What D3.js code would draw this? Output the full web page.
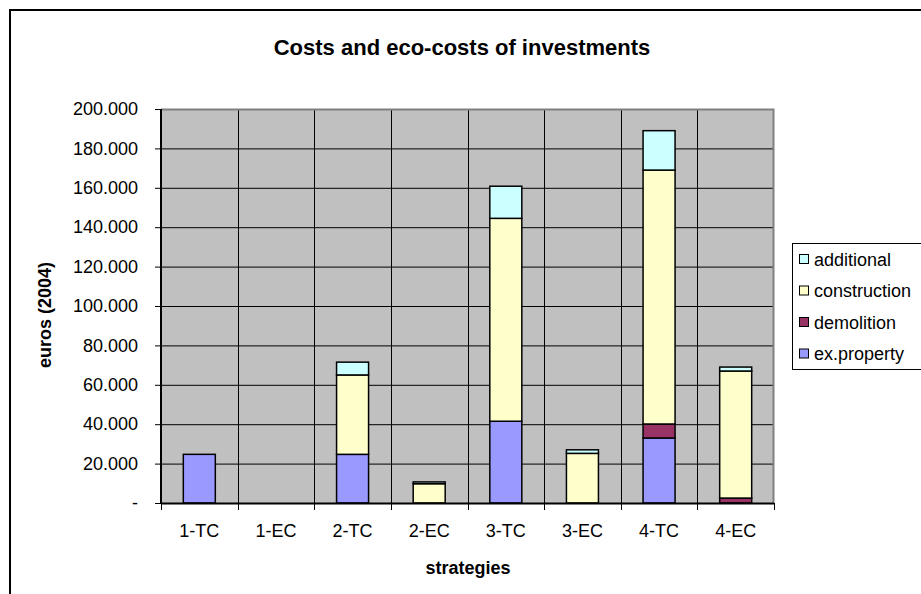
<!DOCTYPE html>
<html><head><meta charset="utf-8">
<script src="https://cdn.jsdelivr.net/npm/d3@7"></script>
<style>body{margin:0;background:#fff}svg{display:block;font-family:Arial,"Liberation Sans",sans-serif}</style>
</head><body>
<svg id="c" width="921" height="594"></svg>
<script>
const categories = ["1-TC","1-EC","2-TC","2-EC","3-TC","3-EC","4-TC","4-EC"];
const exProperty   = [24700, 0, 24700, 0, 41500, 0, 33000, 0];
const demolition   = [0, 0, 0, 0, 0, 0, 7100, 2500];
const construction = [0, 0, 40300, 9800, 103000, 25200, 128900, 64500];
const additional   = [0, 0, 6500, 900, 16300, 1800, 20000, 2000];
const seriesNames  = ["ex.property","demolition","construction","additional"];
const yTicks = [0,20000,40000,60000,80000,100000,120000,140000,160000,180000,200000];
const colors = {"ex.property":"#9999FF","demolition":"#993366","construction":"#FFFFCC","additional":"#CCFFFF"};

const svg = d3.select("#c");
// outer frame
svg.append("rect").attr("x",10).attr("y",10).attr("width",940).attr("height",620)
  .attr("fill","#fff").attr("stroke","#000").attr("stroke-width",2);

const L=161, T=109, R=774, B=503;
const x = d3.scaleBand().domain(categories).range([L,R]).paddingInner(0).paddingOuter(0);
const y = d3.scaleLinear().domain([0,200000]).range([B,T]);

svg.append("rect").attr("x",L).attr("y",T).attr("width",R-L).attr("height",B-T).attr("fill","#C0C0C0");
// grid
svg.append("g").selectAll("line").data(yTicks.slice(1)).join("line")
  .attr("x1",L).attr("x2",R).attr("y1",d=>y(d)+0.5).attr("y2",d=>y(d)+0.5).attr("stroke","#000").attr("stroke-width",1);
svg.append("g").selectAll("line").data(categories.slice(1)).join("line")
  .attr("x1",d=>Math.round(x(d))+0.5).attr("x2",d=>Math.round(x(d))+0.5).attr("y1",T).attr("y2",B).attr("stroke","#000");
// plot border
svg.append("path").attr("d",`M${L},${T+0.5}H${R-0.5}V${B}`).attr("fill","none").attr("stroke","#808080").attr("stroke-width",2);

const rows = categories.map((c,i)=>({cat:c,"ex.property":exProperty[i],"demolition":demolition[i],"construction":construction[i],"additional":additional[i]}));
const stack = d3.stack().keys(seriesNames)(rows);
const bw = 32;
svg.append("g").selectAll("g").data(stack).join("g").attr("fill",d=>colors[d.key])
  .selectAll("rect").data(d=>d.filter(p=>p[1]-p[0]>0)).join("rect")
  .attr("x",d=>x(d.data.cat)+x.bandwidth()/2-bw/2).attr("width",bw)
  .attr("y",d=>y(d[1])).attr("height",d=>y(d[0])-y(d[1]))
  .attr("stroke","#000").attr("stroke-width",1.5);

// axes
const yAxis = d3.axisLeft(y).tickValues(yTicks).tickSize(6).tickFormat(d=>d===0?"-":(d/1000).toFixed(0)+".000");
const gy = svg.append("g").attr("transform",`translate(${L},0)`).call(yAxis);
gy.select(".domain").attr("stroke","#000").attr("stroke-width",2).attr("d",`M0,${T}V${B}`);
gy.selectAll(".tick line").attr("stroke","#000");
gy.selectAll(".tick text").attr("x",-23).attr("font-size",18).attr("fill","#000").attr("font-family","Arial,'Liberation Sans',sans-serif");

const gx = svg.append("g").attr("transform",`translate(0,${B})`);
gx.append("line").attr("x1",L).attr("x2",R).attr("y1",0.5).attr("y2",0.5).attr("stroke","#000").attr("stroke-width",2);
gx.selectAll("line.t").data(categories.concat(["__end"])).join("line").attr("class","t")
  .attr("x1",(d,i)=>Math.round(L+i*x.bandwidth())+0.5).attr("x2",(d,i)=>Math.round(L+i*x.bandwidth())+0.5)
  .attr("y1",0).attr("y2",7).attr("stroke","#000");
gx.selectAll("text").data(categories).join("text")
  .attr("x",d=>x(d)+x.bandwidth()/2).attr("y",34).attr("text-anchor","middle").attr("font-size",18).text(d=>d);

// titles
svg.append("text").attr("x",462).attr("y",55).attr("text-anchor","middle").attr("font-weight","bold").attr("font-size",22).text("Costs and eco-costs of investments");
svg.append("text").attr("x",468).attr("y",574).attr("text-anchor","middle").attr("font-weight","bold").attr("font-size",18).text("strategies");
svg.append("text").attr("transform","translate(51,315) rotate(-90)").attr("text-anchor","middle").attr("font-weight","bold").attr("font-size",18).text("euros (2004)");

// legend
const lg = svg.append("g").attr("transform","translate(792,243)");
lg.append("rect").attr("x",0.5).attr("y",0.5).attr("width",200).attr("height",126).attr("fill","#fff").attr("stroke","#000");
const legendOrder = ["additional","construction","demolition","ex.property"];
const li = lg.selectAll("g").data(legendOrder).join("g").attr("transform",(d,i)=>`translate(0,${16+i*31.5})`);
li.append("rect").attr("x",7.5).attr("y",-4.5).attr("width",9).attr("height",9).attr("fill",d=>colors[d]).attr("stroke","#000");
li.append("text").attr("x",22).attr("y",6.5).attr("font-size",18).text(d=>d);
</script>
</body></html>
